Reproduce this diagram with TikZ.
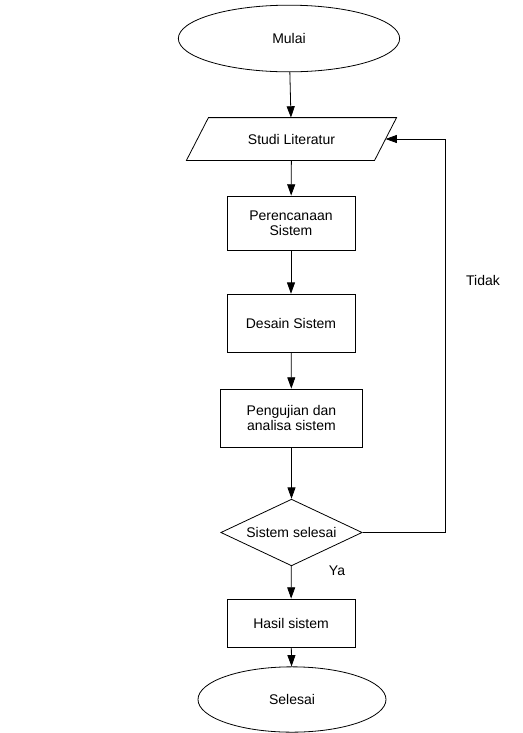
\documentclass[tikz,border=0pt]{standalone}
\usepackage{fontspec}
\setmainfont{Liberation Sans}
\usetikzlibrary{shapes.geometric, arrows.meta}

\begin{document}
\begin{tikzpicture}[
		x=0.75pt, y=-0.75pt,
		every node/.style={draw, line width=0.6pt, inner sep=0pt, align=center, font=\fontsize{10.5}{11.5}\selectfont},
		terminal/.style={ellipse},
		proses/.style={rectangle},
		keputusan/.style={diamond, aspect=2.1},
		masukan/.style={rectangle, draw=none},
		teks/.style={draw=none},
		panah/.style={-{Triangle[length=8.5pt, width=6pt]}, line width=0.6pt}
	]
  \useasboundingbox (0,0) rectangle (523,733);
  \node (mulai) [terminal, minimum width=166pt, minimum height=50pt] at (289, 38.5) {Mulai};
  \node (studi) [masukan, minimum width=157pt, minimum height=31.5pt] at (291.5, 139) {Studi Literatur};
  \draw [line width=0.6pt] ([xshift=16.5pt]studi.north west) -- (studi.north east)
    -- ([xshift=-16.5pt]studi.south east) -- (studi.south west) -- cycle;
  \node (rencana) [proses, minimum width=96pt, minimum height=40.5pt] at (291, 223) {Perencanaan\\Sistem};
  \node (desain) [proses, minimum width=96pt, minimum height=44pt] at (291, 323.5) {Desain Sistem};
  \node (uji) [proses, minimum width=106pt, minimum height=43.5pt] at (291.5, 418) {Pengujian dan\\analisa sistem};
  \node (cek) [keputusan, minimum width=106pt, minimum height=50pt] at (291.5, 532.5) {Sistem selesai};
  \node (hasil) [proses, minimum width=96pt, minimum height=36pt] at (291, 623) {Hasil sistem};
  \node (selesai) [terminal, minimum width=141pt, minimum height=49pt] at (292, 699.5) {Selesai};
  \node (tidak) [teks] at (483, 280) {Tidak};
  \node (ya) [teks] at (337, 571) {Ya};
  \coordinate (balik) at (445, 532.5);
  \coordinate (masuk) at ([xshift=-8.25pt]studi.east);
  \draw [panah] (mulai) -- (studi);
  \draw [panah] (studi) -- (rencana);
  \draw [panah] (rencana) -- (desain);
  \draw [panah] (desain) -- (uji);
  \draw [panah] (uji) -- (cek);
  \draw [panah] (cek) -- (hasil);
  \draw [panah] (hasil) -- (selesai);
  \draw [panah] (cek.east) -- (balik) |- (masuk);
\end{tikzpicture}
\end{document}
